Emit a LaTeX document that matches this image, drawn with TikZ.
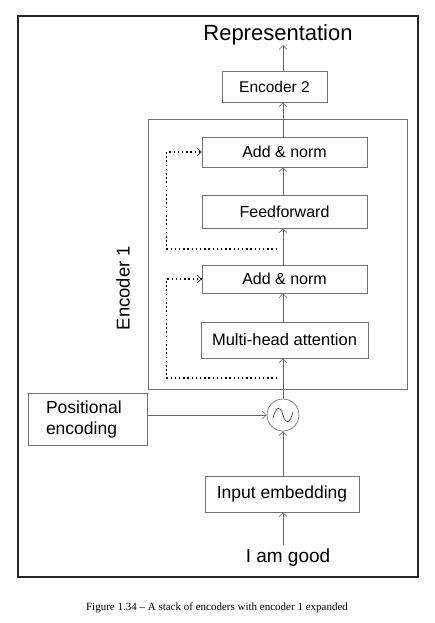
\documentclass[tikz,border=0pt]{standalone}
\usepackage{fontspec}
\setmainfont{Liberation Sans}
\newfontfamily\capfont{Liberation Serif}
\usetikzlibrary{arrows.meta,calc}
\begin{document}
\begin{tikzpicture}[x=1pt,y=-1pt,
  box/.style={draw=black!55,line width=0.7pt,inner sep=0pt,align=center,font=\fontsize{16}{19}\selectfont},
  arr/.style={draw=black!60,line width=0.7pt,-{Straight Barb[length=4pt,width=8pt,line width=0.6pt]}},
  dotl/.style={draw=black,line width=1.5pt,dash pattern=on 1.5pt off 2.7pt},
  dotarr/.style={dotl,-{Straight Barb[length=4pt,width=8pt,line width=0.6pt]}}]
\useasboundingbox (0,0) rectangle (435,623);
\fill[white] (0,0) rectangle (435,623);
\draw[black!85,line width=1.8pt] (18,16) rectangle (418,577);
% encoder 1 frame
\node[draw=black!55,line width=0.7pt,minimum width=259pt,minimum height=270pt,inner sep=0pt] (enc1) at (277.5,254) {};
\node[rotate=90,font=\fontsize{18.5}{21}\selectfont] (enc1lab) at (123,288) {Encoder 1};
\node[font=\fontsize{22}{25}\selectfont] (rep) at (278,35) {Representation};
\node[box,minimum width=105pt,minimum height=31pt,font=\fontsize{15.5}{18}\selectfont] (enc2) at (274.5,86.5) {Encoder 2};
\node[box,minimum width=165pt,minimum height=30pt] (an1) at (284.5,152) {Add \& norm};
\node[box,minimum width=165pt,minimum height=33pt] (ff) at (284.5,211.5) {Feedforward};
\node[box,minimum width=165pt,minimum height=28pt] (an2) at (284.5,279) {Add \& norm};
\node[box,minimum width=167pt,minimum height=36pt,font=\fontsize{16.5}{19}\selectfont] (mha) at (284.5,340) {Multi-head attention};
\node[draw=black!55,line width=0.7pt,circle,minimum size=32pt,inner sep=0pt] (circ) at (283,415) {};
\draw[black!70,line width=0.7pt] (circ.center) ++(-10,3) .. controls +(3,-11) and +(-3,-11) .. ++(10,-3) .. controls +(3,11) and +(-3,11) .. ++(10,-3);
\node[box,minimum width=119pt,minimum height=52pt,align=left,text width=83pt,font=\fontsize{17.5}{21}\selectfont] (pos) at (87.5,419) {Positional\\encoding};
\node[box,minimum width=154pt,minimum height=36pt,font=\fontsize{17.5}{20}\selectfont] (inp) at (282,494) {Input embedding};
\node[font=\fontsize{19}{22}\selectfont] (good) at (288,558) {I am good};
% main arrows
\coordinate (goodtop) at (283,545);
\draw[arr] (goodtop) -- (goodtop |- inp.south);
\draw[arr] (inp.north -| circ) -- (circ.south);
\draw[arr] (pos.east |- circ) -- (circ.west);
\draw[arr] (circ.north) -- (circ.north |- mha.south);
\draw[arr] (mha.north -| circ) -- (circ.north |- an2.south);
\draw[arr] (an2.north -| circ) -- (circ.north |- ff.south);
\draw[arr] (ff.north -| circ) -- (circ.north |- an1.south);
\draw[arr] (an1.north -| circ) -- (circ.north |- enc2.south);
\draw[arr] (enc2.north -| circ) -- (283,45);
% residual dotted lines
\coordinate (d1) at (277,378);
\coordinate (d2) at (277,249);
\draw[dotarr] (d1) -| ($(an2.west)+(-35,0)$) -- (an2.west);
\draw[dotarr] (d2) -| ($(an1.west)+(-35,0)$) -- (an1.west);
\node[font=\capfont\fontsize{11}{13}\selectfont] (cap) at (217,608) {Figure 1.34 – A stack of encoders with encoder 1 expanded};
\end{tikzpicture}
\end{document}
